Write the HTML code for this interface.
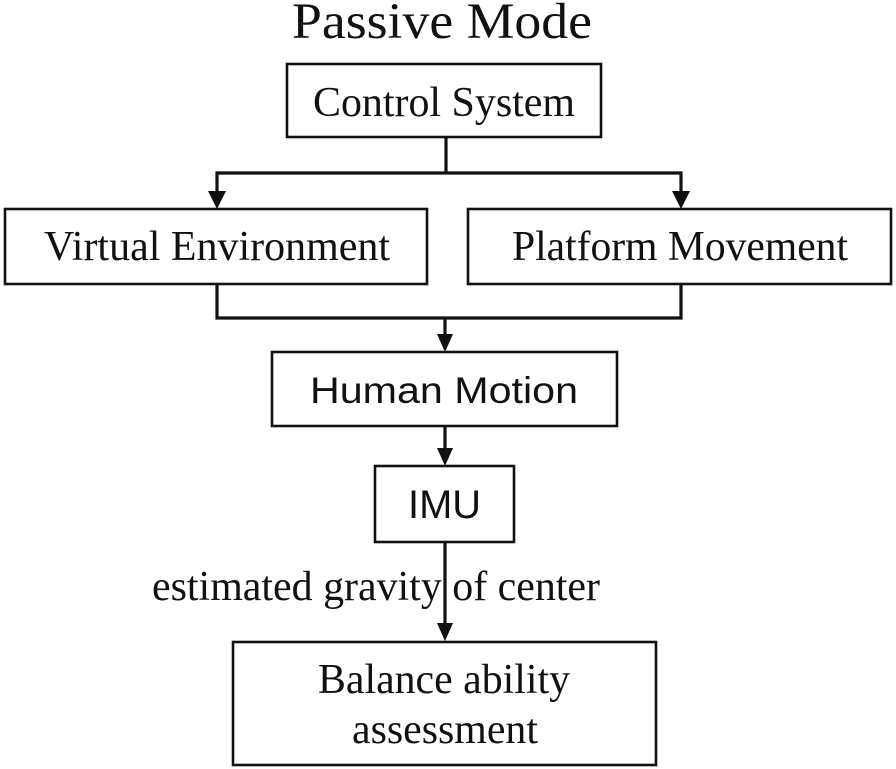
<!DOCTYPE html>
<html>
<head>
<meta charset="utf-8">
<style>
html,body{margin:0;padding:0;background:#fff;}
body{width:896px;height:769px;overflow:hidden;}
svg{display:block;}
.serif{font-family:"Liberation Serif","Times New Roman",serif;fill:#111;}
.sans{font-family:"Liberation Sans",Arial,sans-serif;fill:#111;}
</style>
</head>
<body>
<svg width="896" height="769" viewBox="0 0 896 769" xmlns="http://www.w3.org/2000/svg">
  <rect width="896" height="769" fill="#fff"/>

  <!-- Title -->
  <text class="serif" x="292" y="38" font-size="51" textLength="300" lengthAdjust="spacingAndGlyphs">Passive Mode</text>

  <!-- Boxes -->
  <g fill="none" stroke="#111" stroke-width="2.6">
    <rect x="287" y="64" width="314" height="73"/>
    <rect x="5" y="209" width="422" height="75"/>
    <rect x="468" y="209" width="423" height="75"/>
    <rect x="272" y="352" width="345" height="74"/>
    <rect x="375" y="466" width="139" height="76"/>
    <rect x="233" y="642" width="423" height="123"/>
  </g>

  <!-- Connectors -->
  <g fill="none" stroke="#111" stroke-width="3.2" stroke-linejoin="miter">
    <polyline points="446,137 446,173"/>
    <polyline points="217,193 217,173 681,173 681,193"/>
    <polyline points="217,284 217,318 681,318 681,284"/>
    <polyline points="445,318 445,335"/>
    <polyline points="445,426 445,449"/>
    <polyline points="445,542 445,625"/>
  </g>

  <!-- Arrowheads -->
  <g fill="#111">
    <polygon points="208,191 226,191 217,209"/>
    <polygon points="672,191 690,191 681,209"/>
    <polygon points="437,334 453,334 445,352"/>
    <polygon points="437,448 453,448 445,466"/>
    <polygon points="437,623 453,623 445,641"/>
  </g>

  <!-- Labels -->
  <text class="serif" x="313" y="116" font-size="42" textLength="262" lengthAdjust="spacingAndGlyphs">Control System</text>
  <text class="serif" x="44" y="260" font-size="42" textLength="346" lengthAdjust="spacingAndGlyphs">Virtual Environment</text>
  <text class="serif" x="512" y="260" font-size="42" textLength="336" lengthAdjust="spacingAndGlyphs">Platform Movement</text>
  <text class="sans" x="310" y="403" font-size="37" textLength="268" lengthAdjust="spacingAndGlyphs">Human Motion</text>
  <text class="sans" x="408" y="518" font-size="40" textLength="73" lengthAdjust="spacingAndGlyphs">IMU</text>
  <text class="serif" x="152" y="600" font-size="42" textLength="448" lengthAdjust="spacingAndGlyphs">estimated gravity of center</text>
  <text class="serif" x="318" y="693" font-size="42" textLength="252" lengthAdjust="spacingAndGlyphs">Balance ability</text>
  <text class="serif" x="352" y="743" font-size="42" textLength="186" lengthAdjust="spacingAndGlyphs">assessment</text>
</svg>
</body>
</html>
